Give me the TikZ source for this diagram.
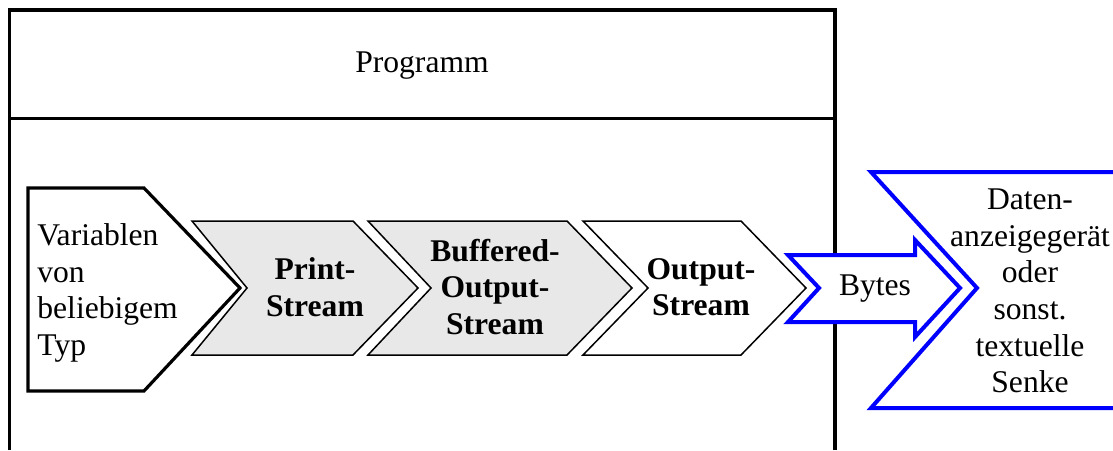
\documentclass[tikz,border=0pt]{standalone}
\usepackage{fontspec}
\setmainfont{Liberation Serif}
\usepackage{tikz}
\usetikzlibrary{positioning}

\begin{document}
\begin{tikzpicture}[x=0.5pt,y=-0.5pt,
  every node/.style={font=\fontsize{15.8}{18.3}\selectfont,inner sep=0pt,align=center},
  bf/.style={font=\fontsize{15.8}{18.3}\selectfont\bfseries},
  frm/.style={line width=1.8pt},
  chv/.style={draw,line width=0.75pt,line join=miter},
  blu/.style={draw=blue,line width=2pt,line join=miter,fill=white}]
 \useasboundingbox (0,0) rectangle (1113,450);
 % Rahmen Programm
 \draw[frm] (9.5,450) -- (9.5,10) -- (835,10) -- (835,450);
 \draw[line width=1.5pt] (9.5,118.5) -- (835,118.5);
 \node (prog) at (422,66) {Programm};
 % Quelle
 \draw[line width=1.6pt,line join=miter] (28,188) -- (144,188) -- (240,288) -- (144,391) -- (28,391) -- cycle;
 % Stroeme
 \foreach \l/\r/\n/\fc in {192/353/55/gray!18,368/567/63/gray!18,583/741/65/white}
   \draw[chv,fill=\fc] (\l,221) -- (\r,221) -- ++(65,67) -- (\r,355) -- (\l,355) -- ++(\n,-67) -- cycle;
 % Bytes und Senke
 \draw[blu] (788,255) -- (915,255) -- (915,240) -- (960,288) -- (915,337) -- (915,322) -- (788,322) -- (819,288) -- cycle;
 \draw[blu,fill=none] (1113,172) -- (871,172) -- (977,288) -- (871,408) -- (1113,408);
 \node[align=left,anchor=west] (src) at (37,293) {Variablen\\von\\beliebigem\\Typ};
 \node[bf] (ps) at (315,287) {Print-\\Stream};
 \node[bf] (bos) at (495,287) {Buffered-\\Output-\\Stream};
 \node[bf] (os) at (701,287) {Output-\\Stream};
 \node (bytes) at (875,289) {Bytes};
 \node (sink) at (1030,291) {Daten-\\anzeigegerät\\oder\\sonst.\\textuelle\\Senke};
\end{tikzpicture}
\end{document}
